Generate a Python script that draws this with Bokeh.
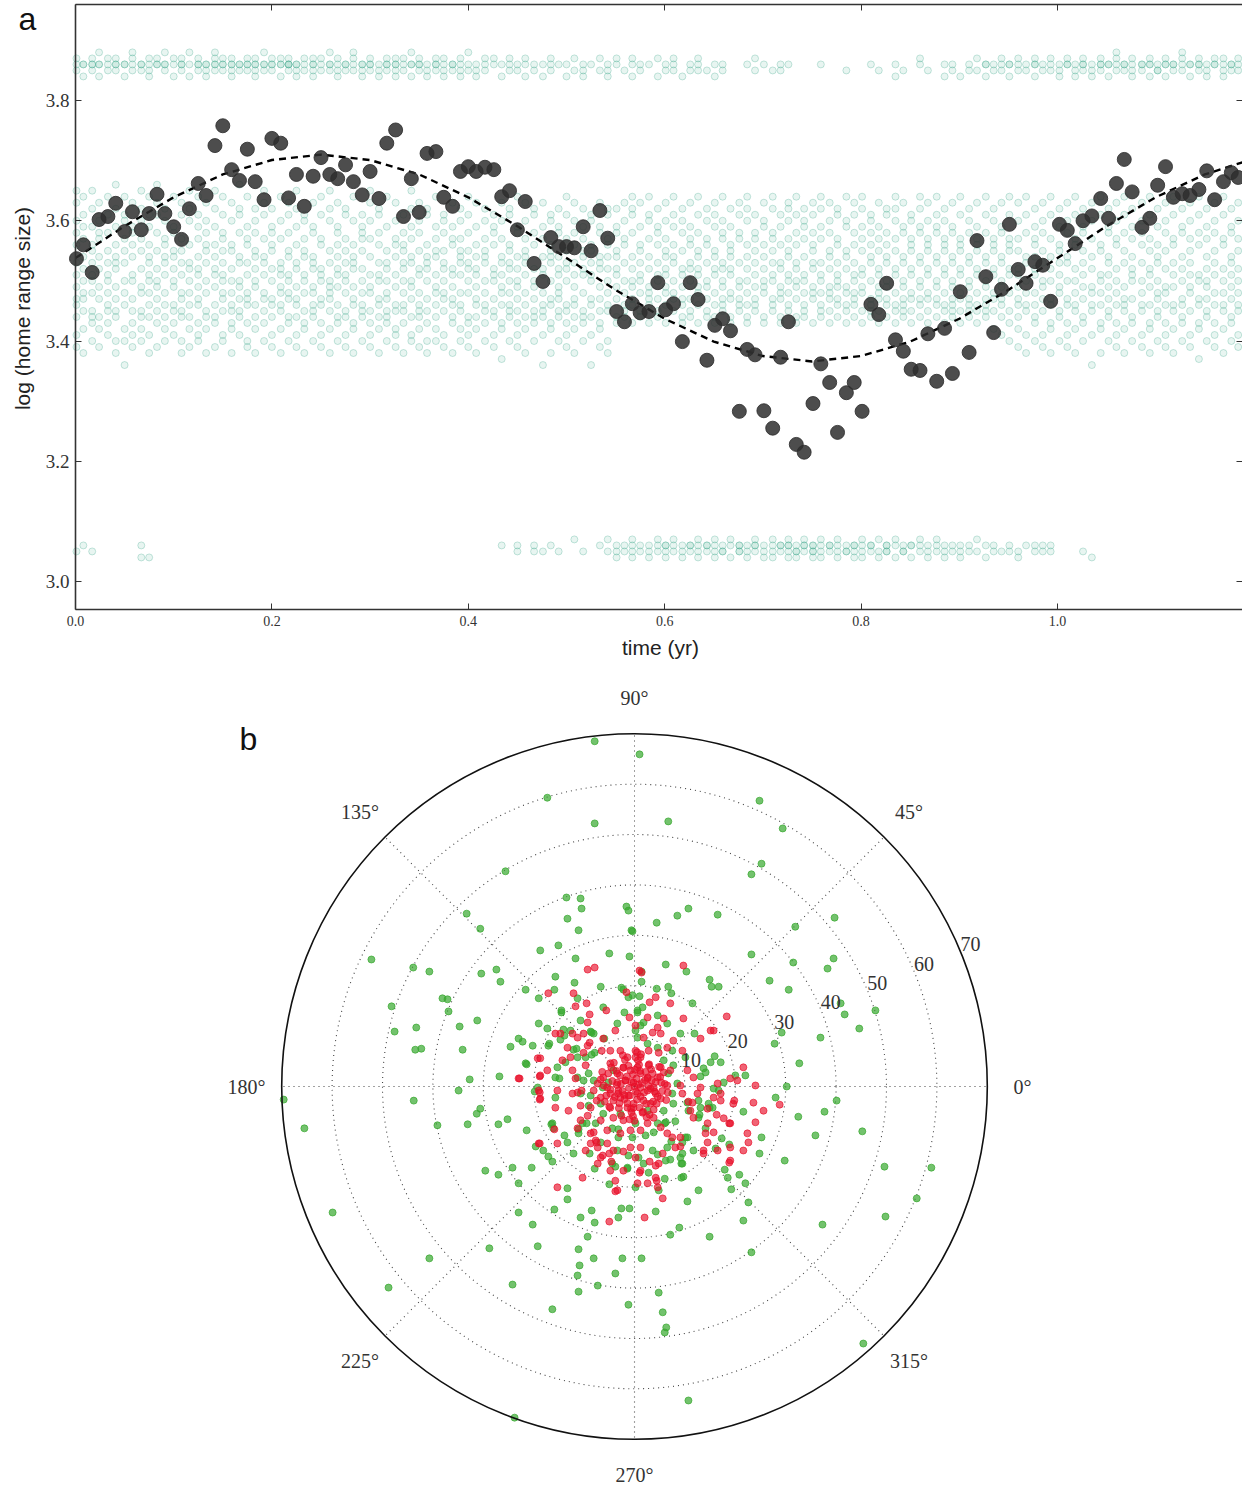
import math
from bokeh.plotting import figure
from bokeh.models import (FixedTicker, PrintfTickFormatter, LinearAxis, Range1d, Label)
from bokeh.layouts import column
from bokeh.embed import file_html
from bokeh.resources import INLINE

# ---------------- panel a data ----------------
mean_t = [0.001,0.008,0.017,0.024,0.033,0.041,0.050,0.058,0.067,0.075,0.083,0.091,0.100,0.108,0.116,0.125,0.133,0.142,0.150,0.159,
          0.167,0.175,0.183,0.192,0.200,0.209,0.217,0.225,0.233,0.242,0.250,0.259,0.267,0.275,0.283,0.292,0.300,0.309,0.317,0.326,
          0.334,0.342,0.350,0.358,0.367,0.375,0.384,0.392,0.400,0.408,0.417,0.426,0.434,0.442,0.450,0.458,0.467,0.476,0.484,0.492,
          0.500,0.508,0.517,0.525,0.534,0.542,0.551,0.559,0.567,0.575,0.584,0.593,0.601,0.609,0.618,0.626,0.634,0.643,0.651,0.659,
          0.667,0.676,0.684,0.692,0.701,0.710,0.718,0.726,0.734,0.742,0.751,0.759,0.768,0.776,0.785,0.793,0.801,0.810,0.818,0.826,
          0.835,0.843,0.851,0.860,0.868,0.877,0.885,0.893,0.901,0.910,0.918,0.927,0.935,0.943,0.951,0.960,0.968,0.977,0.985,0.993,
          1.002,1.010,1.018,1.026,1.035,1.044,1.052,1.060,1.068,1.076,1.086,1.094,1.102,1.110,1.118,1.127,1.135,1.144,1.152,1.160,
          1.169,1.177,1.184]
mean_y = [3.537,3.560,3.514,3.602,3.607,3.629,3.582,3.615,3.585,3.612,3.644,3.612,3.590,3.569,3.620,3.662,3.642,3.725,3.758,3.685,
          3.667,3.719,3.665,3.635,3.737,3.729,3.638,3.677,3.624,3.674,3.705,3.677,3.670,3.693,3.665,3.643,3.682,3.637,3.729,3.751,
          3.607,3.670,3.614,3.712,3.715,3.639,3.624,3.682,3.690,3.682,3.689,3.685,3.640,3.650,3.585,3.632,3.529,3.499,3.572,3.557,
          3.557,3.555,3.590,3.550,3.617,3.571,3.449,3.432,3.462,3.447,3.449,3.497,3.452,3.462,3.399,3.497,3.469,3.368,3.426,3.437,
          3.417,3.283,3.386,3.377,3.284,3.255,3.373,3.432,3.228,3.215,3.296,3.362,3.331,3.248,3.314,3.331,3.283,3.461,3.444,3.496,
          3.402,3.383,3.353,3.351,3.412,3.333,3.421,3.346,3.482,3.381,3.567,3.507,3.414,3.486,3.594,3.519,3.496,3.532,3.526,3.466,
          3.594,3.584,3.562,3.600,3.608,3.637,3.604,3.662,3.702,3.648,3.589,3.604,3.659,3.690,3.639,3.645,3.642,3.652,3.683,3.635,
          3.665,3.680,3.672]

fit_t = [0.00,0.05,0.10,0.15,0.20,0.25,0.30,0.35,0.40,0.45,0.50,0.55,0.60,0.65,0.70,0.75,0.80,0.85,0.90,0.95,1.00,1.05,1.10,1.15,1.19]
fit_y = [3.538,3.591,3.639,3.677,3.701,3.710,3.701,3.677,3.639,3.591,3.538,3.485,3.437,3.399,3.375,3.366,3.375,3.399,3.437,3.485,
         3.538,3.591,3.639,3.677,3.698]

# individual log home-range values per sampling date, in hundredths above 3.00
teal_mid = [
"39 41 44 46 49 51 53 56 58 60 63 65 47","38 42 45 47 48 52 54 57 59 61 64 50","40 43 45 48 50 53 55 56 59 62 65 44 51",
"39 42 44 47 49 52 54 57 60 63 58","41 43 46 48 51 53 55 58 61 64 45 50","38 40 44 45 49 52 54 56 59 62 66 47 53",
"36 40 42 46 48 50 53 57 60 61 64 55","39 41 43 47 50 51 54 58 59 63 45 56","40 42 45 48 49 52 55 57 60 62 65 44",
"38 41 44 46 50 53 54 56 59 61 64 48 51","39 43 45 47 49 52 55 58 61 63 66 50","40 42 44 48 51 53 56 57 60 62 46 54",
"41 43 46 49 50 52 54 58 59 64 45 55","38 40 45 47 48 51 55 57 61 63 44 53","39 42 44 46 50 52 53 56 60 62 65 48",
"40 41 43 47 49 51 54 57 59 61 64 46 52","38 42 45 48 50 53 55 58 60 63 44 56","39 43 44 46 49 52 54 56 59 62 65 51",
"40 41 45 47 50 51 53 57 58 61 64 48 55","38 42 43 46 48 52 55 56 60 63 45 50","41 44 45 49 50 53 54 58 61 62 66 47",
"39 40 43 47 48 51 56 57 59 64 46 53","38 42 44 46 49 52 55 58 60 62 50 54","40 43 45 48 51 53 54 57 61 63 65 47",
"39 41 44 47 50 52 56 58 59 62 46 55","38 42 45 46 49 51 53 57 60 64 48 52","40 43 44 48 50 54 55 58 61 63 47 51",
"39 41 46 47 49 52 53 56 59 62 65 44","38 42 43 45 50 51 55 57 60 61 48 54","40 44 46 48 49 53 54 58 59 63 45 52",
"39 41 43 47 51 52 56 57 61 64 46 50","38 42 45 47 48 50 53 55 60 62 65 49","40 43 44 46 49 52 54 58 59 63 51 56",
"39 41 45 48 50 51 55 57 61 62 44 53","38 42 43 47 49 53 54 56 60 64 46 52","40 44 45 46 50 52 55 58 59 61 48 57",
"39 41 43 48 49 51 54 57 60 63 65 45","38 42 46 47 50 53 56 58 61 62 44 51","40 43 44 45 48 52 53 55 59 64 47 50",
"39 41 42 46 49 51 54 57 60 63 45 56","38 43 45 48 50 52 55 56 58 61 46 53","40 41 44 47 49 53 54 57 59 62 65 50",
"39 42 45 46 48 51 55 58 60 63 44 52","38 40 43 47 50 52 53 56 61 62 45 54","40 42 44 46 49 51 54 57 59 64 48 55",
"39 41 45 48 50 53 55 58 60 61 47 52","38 43 44 47 49 52 56 57 59 63 46 51","40 42 45 46 51 53 54 55 60 62 48 57",
"39 41 43 48 50 52 55 58 61 64 44 53","38 42 44 47 49 51 54 56 59 63 46 52","40 43 45 46 48 53 55 57 60 62 50 54",
"39 41 44 47 50 52 56 58 59 61 45 51","37 42 43 48 49 51 54 57 60 63 46 53","40 44 45 46 50 53 55 56 61 62 48 52",
"39 41 43 47 49 52 54 58 59 64 45 50","38 42 44 48 51 53 55 57 60 63 46 54","40 43 45 47 49 50 56 58 61 62 44 52",
"36 41 44 46 48 52 54 57 59 63 45 51","38 42 43 47 50 53 55 56 60 61 46 54","40 44 45 48 49 51 54 58 59 62 47 52",
"39 41 43 46 50 52 55 57 61 64 45 53","38 42 44 47 49 53 56 58 60 63 46 51","40 43 45 48 51 52 54 57 59 62 44 55",
"36 41 44 46 50 51 55 56 60 61 47 53","39 42 43 47 49 53 54 58 59 63 45 52","38 40 45 48 50 52 56 57 61 62 46 54",
"43 44 47 51 52 55 58 59 62 49 54","45 46 48 50 53 56 57 60 63 44","43 47 49 50 52 54 58 61 62 64 46",
"44 45 48 51 53 55 56 59 63 50","43 46 47 49 52 54 57 60 61 64 48","44 45 50 51 53 56 58 59 62 47",
"43 46 48 49 52 55 57 60 63 51 54","45 47 48 50 53 54 56 59 61 64","43 44 46 49 51 52 55 58 62 60 47",
"44 45 47 50 53 56 57 59 63 52","43 46 48 51 52 54 55 58 61 64 49","45 47 49 50 53 56 57 60 62 44",
"43 44 46 48 51 54 55 59 61 63 52","45 47 49 50 52 53 57 58 60 64 46","43 44 48 51 52 55 56 59 62 47 54",
"45 46 47 49 50 53 57 58 61 63","43 44 48 50 52 54 56 60 62 64 46","45 46 47 51 53 55 57 58 61 49",
"43 44 48 49 52 54 56 59 60 63 50","45 46 47 50 51 55 57 58 62 64 53","43 44 48 49 52 53 56 59 61 47",
"45 46 50 51 54 55 57 60 62 63 48","43 44 47 49 52 53 56 58 61 64 50","45 46 48 50 51 54 57 59 60 62 44",
"43 47 48 49 52 55 56 58 61 63 53","44 45 46 50 51 53 57 59 62 64 48","43 45 48 49 52 54 55 58 60 63 47",
"44 46 47 50 51 53 56 57 61 62 49","43 45 48 49 52 54 55 59 60 64 46","44 46 47 50 51 53 56 58 61 63 48",
"43 45 48 49 52 55 57 59 62 64 51","44 46 47 50 53 54 56 58 60 61 45","43 45 48 49 51 52 55 57 59 63 47",
"44 46 47 50 53 54 56 58 61 62 49","43 45 48 51 52 55 57 60 62 64 46","44 46 47 49 50 53 54 58 59 63 45",
"43 45 48 51 52 55 56 57 60 61 47","44 46 47 49 50 53 54 58 59 62 64","43 45 48 51 52 55 56 57 60 63 47",
"44 46 47 49 50 53 54 58 59 61 64","43 45 48 51 52 55 56 57 60 62 46","44 46 47 49 50 53 54 58 59 63 45",
"43 45 48 51 52 55 56 57 61 64 47","44 46 47 49 50 53 54 58 60 62 45","43 45 48 51 52 55 56 57 59 63 46",
"44 46 47 49 50 53 54 58 61 64 45","42 45 48 51 52 55 56 57 60 62 47","41 46 47 49 50 53 54 58 59 63 44",
"40 45 48 51 52 55 56 57 61 64 43","39 42 44 47 49 52 55 57 60 63 46 51","38 41 45 46 50 53 54 58 61 64 48",
"40 43 44 48 51 52 56 57 59 62 46 54","39 41 45 47 49 53 55 58 60 63 50","38 42 43 46 50 52 54 57 61 64 47",
"40 44 45 48 49 51 55 56 59 62 53","39 41 43 47 50 53 54 58 60 63 46","38 42 45 46 48 52 56 57 61 64 50",
"40 43 44 47 51 53 55 58 59 62 49","36 41 45 48 49 52 54 57 60 63 46","38 42 43 46 50 51 55 56 61 64 48",
"40 44 45 47 49 53 54 58 59 62 51","39 41 43 48 50 52 56 57 60 63 46","38 42 45 46 49 53 55 58 61 64 47",
"40 43 44 47 51 52 54 57 59 62 50","39 41 45 48 50 53 56 58 60 63 46","38 42 43 46 49 51 55 57 61 64 52",
"40 44 45 47 50 53 54 56 59 62 48","39 41 43 48 49 52 55 58 60 63 46","38 42 45 46 51 53 56 57 61 64 49",
"40 43 44 47 50 52 54 58 59 62 46","39 41 45 48 49 53 55 57 60 63 51","37 42 43 46 50 51 56 58 61 64 47",
"40 44 45 47 49 52 54 57 59 62 50","39 41 43 48 51 53 55 58 60 63 46","38 42 45 46 50 52 56 57 61 64 48",
"40 43 44 47 49 53 54 58 59 62 51","39 41 45 48 50 52 55 57 60 63 46"]

teal_top = [
"85 86 87","86 84 86","85 86 87 86","84 86 86 88","85 86 87","86 85 86 87","84 86 86","85 86 87 88","86 86 85","84 85 86 87",
"86 87 86","85 86 88 86","84 86 87","85 86 86 87","86 84 88","85 86 87 86","84 85 86 86","86 87 86 85 88","85 86 86 87","84 86 87 86 85",
"85 86 86","86 87 85 86","84 85 86 87 86","85 86 86 88","86 85 87 86","84 86 86 87","85 86 87 86 86","86 85 86 84","85 86 87","84 86 86 85 87",
"86 85 87","85 86 86 88","84 85 86 87","86 86 85","85 86 87 88","84 86 86 85","86 85 87 86","85 86 84","86 87 86 85","84 85 86 86 87",
"85 86 87","86 84 86 88","85 86 86 87","84 86 85","86 85 87 86","85 86 84 87","86 86 85","84 85 86 87","85 86 88","86 85 84",
"85 86 87","86 87","84 86","85 86 87","86 85","84 86 87","85 86","86 84","85 87 86","86",
"84 86","85 87","86 85 84","86","85 87","84 86 85","86 87","85","86 84 87","85 86",
"86","84 87","86 85","85 86 87","84","86 85","87 85 86","85","86 84","85 86",
"","","86","85 87","86","85","86 85","86","","",
"","86","","","85","","","86","85","",
"86 84","85","","86 87","85","","86 84","85 86","84","86 85",
"85 87","86 84 86","85 86","86 87 85","84 86 86","85 86 87","86 85","84 86 86 87","85 86","86 87 85",
"85 86 84","86 86 87","84 85 86","86 87 85 86","85 86 84","86 85 87 86","84 86 86","85 86 87 88","86 85 86","84 86 87 85",
"85 86 86","86 87 84 86","85 86 85","84 86 87 86","86 85 86","85 86 87 88","86 84 86","85 86 87 86","84 86 85","86 87 86",
"85 86 84 87","86 86 85","85 86 87"]

teal_bot = [
"05","06","05","","","","","","06 04","04",
"","","","","","","","","","",
"","","","","","","","","","",
"","","","","","","","","","",
"","","","","","","","","","",
"","","06","","05 06","","06 05","05","06","05",
"","07","05","","06","05 07","05 06 04","06 05","04 06 07 05","05 06",
"06 04 05","05 07 06","04 05 06 06","06 05 07","05 04 06","06 06 05","04 05 07 06","05 06 06","06 04 05 07","05 06 05",
"04 06 07","05 06 05 06","06 04 05","05 06 07 06","04 05 06","06 05 04 07","05 06 06","04 05 06 07 06","06 05 05 04","05 06 07 06",
"04 05 06 06 05","06 05 07 04","05 06 06","04 05 06 07","06 05 05","05 06 04 06","04 06 05 07","06 05 06","05 04 07","06 05 06 05",
"04 06 07","05 06 05","06 04 06","05 06 07","04 05 06","06 05 07","05 04 06","06 05","05 06 04","06 05",
"05 07","04 06","06 05","05","06 05","05 04","06","05 06","06 05","05 06",
"","","","05","04","","","","","",
"","","","","","","","","","",
"","","","","","","","","","",
"","",""]

# ---------------- panel b data (east / north displacement) ----------------
green_pts = [
(-7.9,68.5),(1.0,65.9),(-17.3,57.3),(-7.9,52.2),(-25.6,42.7),(-13.5,37.5),(-10.7,37.3),(-10.5,35.3),(-1.6,35.7),(-1.2,34.9),
(-33.3,34.3),(-13.3,33.3),(-30.6,31.3),(-11.1,31.0),(-0.6,31.0),(-18.7,27.0),(-15.1,28.0),(-5.0,26.4),(-1.0,25.8),(-11.7,25.4),
(-52.2,25.2),(-43.9,23.6),(-40.7,22.8),(-30.4,22.4),(-27.4,23.2),(-26.6,20.8),(-15.7,21.8),(-11.9,20.6),(-21.6,19.2),(-15.9,19.2),
(-6.7,19.8),(-2.2,19.2),(1.4,20.8),(-19.0,17.5),(-11.3,17.5),(1.0,17.9),(-48.2,15.9),(-38.1,17.5),(-37.1,17.3),(-36.9,14.9),
(-14.5,15.1),(-6.2,15.7),(-2.0,14.7),(0.6,15.1),(-19.0,12.5),(-31.2,13.1),(-34.7,11.9),(-17.3,11.5),(-47.6,10.9),(-43.3,11.7),
(-14.1,11.3),(-8.7,10.9),(1.8,12.7),(-43.5,7.3),(-42.3,7.5),(-34.1,7.3),(-24.6,7.9),(-23.0,9.5),(-22.2,8.9),(-20.2,8.1),
(-16.9,8.5),(-14.7,9.3),(-13.9,10.1),(-32.7,1.4),(-26.8,2.0),(-21.4,4.4),(-15.7,1.8),(-15.3,3.8),(-12.1,7.3),(-11.3,5.8),
(-8.1,10.5),(-8.5,6.3),
(6.7,52.6),(24.8,56.7),(29.4,51.2),(25.2,44.2),(23.2,42.1),(10.7,35.3),(8.5,33.9),(4.4,32.5),(16.5,34.1),(39.7,33.5),
(31.9,31.7),(23.2,26.2),(31.5,24.6),(39.5,25.4),(38.3,23.4),(26.8,21.0),(30.6,19.2),(14.9,21.2),(15.3,19.8),(16.7,19.8),
(6.2,24.2),(10.3,22.8),(40.9,16.5),(41.7,14.3),(47.8,15.1),(44.6,11.5),(36.9,9.7),(29.2,10.7),(27.8,8.5),(32.7,4.6),
(-0.4,30.8),(1.4,22.8),(4.4,19.4),(6.7,19.8),(7.3,18.5),(11.5,16.5),(11.9,10.5),(15.9,6.0),(20.0,2.2),(22.0,2.2),
(13.7,3.6),(13.1,2.0),(30.2,0.0),
(-69.6,-2.6),(-65.5,-8.3),(-59.9,-25.0),(-48.8,-39.9),(-40.7,-34.1),(-28.8,-32.1),(-24.2,-39.3),(-16.3,-44.2),(-11.1,-40.7),(-7.3,-39.5),
(-11.3,-37.5),(-10.9,-35.5),(-11.1,-32.3),(-8.1,-34.1),(-3.8,-37.1),(-2.4,-34.1),(-1.2,-43.3),(-19.2,-31.7),(-20.2,-27.4),(-23.0,-25.0),
(-15.9,-24.4),(-10.7,-26.0),(-9.3,-29.8),(-7.9,-27.0),(-8.5,-24.6),(-3.2,-26.0),(-2.6,-24.2),(-1.0,-24.2),(-13.3,-20.2),(-13.3,-22.4),
(-23.0,-19.2),(-29.6,-16.7),(-27.0,-17.5),(-24.2,-16.1),(-20.4,-16.1),(-17.1,-13.9),(-16.3,-14.9),(-8.9,-13.3),(-7.9,-16.3),(-3.8,-15.9),
(-1.4,-16.1),(-5.0,-19.4),(-19.6,-11.9),(-16.5,-7.5),(-13.9,-9.7),(-11.1,-8.5),(-9.5,-7.3),(-21.4,-8.7),(-25.2,-6.5),(-27.0,-7.5),
(-33.1,-7.5),(-39.1,-7.7),(-43.8,-2.8),(-34.9,-0.8),(-31.3,-5.4),(-30.6,-4.4),(-19.8,-1.0),(-3.2,-8.5),(-23.8,-65.7),
(28.0,-2.2),(40.1,-2.8),(32.5,-6.0),(37.7,-5.0),(45.2,-8.9),(35.9,-9.7),(29.8,-14.7),(49.6,-15.9),(58.9,-16.1),(56.0,-22.2),
(49.8,-25.8),(37.3,-27.4),(21.6,-26.6),(23.2,-32.9),(14.9,-29.8),(8.9,-28.0),(7.1,-29.4),(1.4,-34.1),(4.8,-40.9),(5.6,-44.8),
(6.3,-47.8),(6.0,-48.8),(10.7,-62.3),(45.4,-51.0),(10.5,-22.8),(12.7,-20.6),(4.2,-24.8),(4.8,-20.6),(6.0,-18.3),(9.3,-18.1),
(9.7,-17.9),(19.2,-20.4),(22.0,-19.2),(22.6,-23.0),(20.8,-17.5),(17.9,-16.5),(18.5,-18.1),(24.8,-13.3),(25.2,-10.1),(18.8,-11.5),
(11.7,-12.7),(16.1,-12.3),(17.3,-10.3),(21.6,-5.0),(14.9,-4.2),(15.5,-4.2),(12.7,-2.8),(14.1,-8.3),(12.9,-5.6),(9.5,-13.3),
(9.3,-15.3),(6.2,-14.7),(7.1,-14.5),(2.8,-17.1),(4.6,-13.5),(0.2,-20.0),(7.3,-10.9),(10.1,-10.1),(8.1,-6.9),(6.0,-7.3),
(-0.4,18.1),(-2.6,19.6),(-21.6,4.6),(-17.1,8.1),(-19.2,-0.2),(-14.5,14.7),(-12.7,11.1),(-10.7,13.1),(-11.5,7.5),(-8.5,10.7),
(-9.7,5.8),(-9.1,2.6),(-7.9,6.7),(-6.0,9.5),(-3.4,12.5),(0.6,14.7),(1.6,15.7),(-1.2,17.7),(4.6,14.1),(6.5,12.5),
(9.1,10.5),(7.5,7.1),(10.1,5.8),(8.5,0.6),(7.5,-1.4),(10.5,-3.2),(7.7,-3.4),(5.8,-4.8),(4.6,-7.3),(6.2,-7.1),
(10.7,-4.8),(13.1,-4.2),(12.7,-6.2),(14.7,-3.4),(15.7,-0.4),(16.7,-0.8),(17.7,0.8),(14.1,2.8),(17.1,4.8),(15.1,4.8),
(-8.7,-1.8),(-6.7,-3.4),(-9.1,-3.8),(-6.2,-5.4),(-10.3,-7.3),(-7.7,-7.3),(-11.1,-9.3),(-13.3,-11.1),(-12.1,-13.3),(-6.7,-11.1),
(-4.4,-8.3),(-3.2,-10.1),(-0.4,-10.1),(2.2,-9.7),(3.8,-9.1),(3.6,-12.7),(0.8,-14.1),(-1.2,-13.7),(-3.4,-12.7),(-4.4,-15.3),
(-1.4,-16.3),(1.8,-15.3),(6.5,-12.1),(9.5,-11.1),(10.5,-10.1),(9.1,-14.1),(9.5,-15.3),(-5.2,0.8),(-4.2,3.2),(-10.7,-1.4),
(-11.3,1.8),(-13.7,4.8),(-14.9,1.6),(-15.7,-2.2),(-16.3,-7.3),(-16.1,-8.3),(-18.1,-12.7),(0.2,11.1),(0.6,9.7),(1.2,12.1),
(2.6,8.5),(4.6,7.7),(5.8,5.2),(7.7,4.2),(6.7,2.6),(2.6,-4.8),(0.2,-7.3),(-2.8,-5.4),(-6.3,-0.2),(-8.1,1.2),(-10.1,1.2)]

red_pts = [
(9.7,24.0),(-9.3,23.2),(-7.9,23.6),(-17.1,18.5),(-12.1,18.5),(-9.5,16.5),(-5.6,15.1),(-1.6,18.7),(1.4,22.6),(3.0,16.7),
(4.2,17.7),(7.1,16.5),(9.7,13.5),(15.1,11.1),(15.7,11.1),(13.1,9.5),(18.3,13.9),(21.6,3.8),(20.4,1.2),(19.0,1.6),
(16.5,0.6),(17.1,-2.8),(15.7,-2.2),(23.6,-3.2),(25.6,-4.8),(24.0,-7.1),(22.4,-9.3),(22.6,-11.1),(14.5,-7.3),(11.7,-6.2),
(14.1,-9.3),(13.7,-12.7),(19.0,-12.1),(19.0,-14.7),(6.5,-9.3),(7.5,-10.1),(9.1,-10.1),(8.1,-12.1),(5.6,-13.3),(4.8,-15.3),
(4.2,-18.1),(5.6,-22.2),(2.6,-19.2),(1.2,-16.7),(-3.4,-20.6),(-3.8,-18.7),(-4.2,-12.7),(-5.4,-11.3),(-7.7,-10.7),(-7.3,-12.1),
(-6.7,-14.1),(-9.7,-12.7),(-11.3,-8.3),(-13.1,-4.8),(-10.7,-3.8),(-12.3,-1.4),(-11.7,1.6),(-12.3,3.2),(-9.7,4.2),(-10.1,6.7),
(-12.7,5.8),(-14.3,5.2),(-18.7,2.2),(-19.0,-0.8),(-18.7,-2.4),(-23.0,1.6),(-9.3,8.1),(-8.9,8.7),(-6.5,7.1),(-6.2,9.5),
(-3.8,11.1),(-4.8,7.1),(-2.8,7.1),(0.2,12.1),(0.2,7.1),(1.8,9.7),(3.6,10.7),(5.2,10.5),(2.8,7.1),(4.8,6.7),
(6.5,7.7),(2.8,4.2),(5.2,3.8),(7.1,3.2),(4.6,1.8),(2.6,1.6),(6.5,0.2),(9.1,0.2),(9.5,-1.4),(12.5,-1.4),
(11.5,-3.2),(5.2,-2.4),(3.2,-3.4),(3.8,-6.2),(1.6,-5.2),(-0.2,-4.2),(-1.4,-4.2),(-2.2,-6.7),(-4.2,-6.2),(-4.8,-4.2),
(-6.7,-2.2),(-4.8,-1.4),(-3.2,-0.8),(-3.4,0.8),(-1.8,1.2),(-0.2,0.8),(1.2,-0.2),(0.6,-1.4),(-1.2,-1.8),(-2.8,-2.2),
(1.8,-2.8),(2.6,-0.8),(3.8,-0.2),(4.2,-1.4),(-0.8,3.2),(0.6,3.8),(1.2,2.6),(-2.2,3.8),(-3.4,2.6),(-4.8,4.6),
(-6.2,1.8),(-7.3,0.6),(-8.1,-0.8),(-8.7,-4.2),(-9.3,-5.8),(-6.7,-6.7),(-5.4,-8.7),(-2.8,-9.3),(-0.8,-8.7),(1.2,-8.7),
(2.6,-7.3),(5.2,-8.1),(-0.8,-12.1),(1.2,-12.1),(-1.4,5.8),(1.2,5.8),(2.6,13.7),(4.6,11.7),(5.8,13.5),(7.7,9.1),
(9.5,7.1),(10.5,3.2),(11.7,1.8),(13.1,-0.2),(-11.3,9.7),(-13.3,7.7),(-15.7,10.5),(-12.3,10.5),(-18.7,5.6),(-17.3,3.2),
(-15.3,-0.8),(-15.7,-4.2),(-10.7,-6.7),(-8.1,-9.1),(-8.7,-11.3),(-15.3,-11.3),(-19.0,-11.3),(-7.3,-15.3),(-4.8,-16.7),(-2.2,-16.7),
(0.6,-19.2),(4.6,-20.0),(0.2,-14.1),(-15.3,-20.0),(-10.3,-18.1),(16.5,-12.7),(19.0,-7.3),(19.6,-3.4),(17.7,-6.3),(15.7,-9.1),
(19.8,-2.8),(28.8,-3.6),(21.6,-12.7),(18.8,-15.1),(18.8,-7.3),(14.5,-11.1),(13.7,-13.3),(11.1,-4.8),(10.7,-3.0),(16.3,-5.6),
(14.5,-4.4),(17.1,-1.4),(9.1,-11.9),(4.2,-15.7),(3.0,-14.9),(2.0,-26.0),(1.0,-17.1),(4.4,-18.7),(24.0,0.2),
(-18.8,-1.2),(-18.8,-2.6),(-11.3,-1.2),(-10.5,-0.8),(-18.8,-11.3),(-15.9,-8.5),(-5.0,-26.8),(-3.8,-20.8),(-8.7,-9.3),(-7.5,-11.1),
(-6.3,-13.7),(-5.0,-13.3),(-2.2,-12.9),(-4.6,-14.9),(-7.5,-2.8),
(-11.7,15.9),(-9.3,12.7),(-8.9,14.3),(1.0,23.0),(-19.2,5.6),(-14.7,10.5),(-10.1,10.5),(-22.8,1.6),(-18.8,2.0),(-1.0,13.7),
(0.0,0.0),(0.8,0.4),(-0.6,0.9),(-1.1,-0.3),(0.3,-1.0),(1.5,0.7),(-1.8,1.2),(1.9,-1.2),(-2.4,-0.9),(2.6,1.8),
(-0.3,2.4),(0.5,-2.6),(-2.9,2.2),(3.2,-0.4),(-3.5,0.3),(1.1,3.1),(-1.4,-3.3),(3.6,2.6),(-3.9,-2.1),(2.3,-3.4),
(-2.2,3.7),(4.2,0.9),(-4.4,1.1),(0.9,4.3),(-0.7,-4.4),(4.6,-2.0),(-4.8,-0.6),(2.9,4.4),(-3.1,-4.3),(5.1,1.9),
(-5.2,2.6),(1.7,-5.0),(-1.9,5.3),(5.5,-0.9),(-5.6,-1.8),(3.8,-4.6),(-4.1,4.7),(0.2,5.8),(-0.3,-5.9),(6.0,0.5),
(-6.1,0.2),(4.9,3.9),(-5.0,-4.0),(3.0,-5.6),(-2.6,-5.8),(6.3,-2.7),(-6.4,2.9),(1.3,6.4),(-1.0,-6.5),(2.1,1.3),
(-1.5,2.0),(1.2,-2.0),(-2.0,-1.7),(0.4,1.6),(-0.9,-1.8),(2.8,0.1),(-2.7,0.5),(0.1,3.3),(-0.2,-3.4),(3.4,1.2),
(-3.3,-1.4),(4.0,-1.0),(-4.2,-2.8),(2.2,2.9),(-2.0,-2.5),(1.0,-4.2),(-1.2,4.1),(3.3,3.4),(-3.6,3.1),(3.7,-3.0),
(-3.0,-3.3),(5.3,0.8),(-5.4,-0.2),(0.7,5.2),(-0.6,-5.1),(4.4,-3.4),(-4.6,3.8),(5.8,2.8),(-5.9,-3.0),(2.4,-6.1),
(-2.3,6.2),(6.6,-1.2),(-6.7,1.4),(0.5,6.8),(0.0,-6.8)]

ring_radii = [10, 20, 30, 40, 50, 60]
r_max = 70
spoke_deg = [0, 45, 90, 135, 180, 225, 270, 315]
angle_labels = ["0°", "45°", "90°", "135°", "180°", "225°", "270°", "315°"]
ring_labels = ["10", "20", "30", "40", "50", "60", "70"]

SERIF = "Liberation Serif"
SANS = "Liberation Sans"
AX = "#333333"

# ---------------- panel a ----------------
tx, ty = [], []
for t, a, b, c in zip(mean_t, teal_mid, teal_top, teal_bot):
    for code in (a + " " + b + " " + c).split():
        tx.append(t)
        ty.append(3.0 + int(code) / 100.0)

PXU = 982.0                       # pixels per year
PYU = 601.25                      # pixels per log unit
X0 = -75.0 / PXU                  # canvas-wide data window
X1 = 1167.0 / PXU
Y_TOP = 3.0 + 581.0 / PYU
Y_BOT = 3.0 - 84.0 / PYU
YF0 = 3.0 - 28.0 / PYU            # axes box
YF1 = 3.0 + 577.0 / PYU

p = figure(width=1242, height=665, output_backend="svg", toolbar_location=None,
           x_range=Range1d(X0, X1), y_range=Range1d(Y_BOT, Y_TOP),
           min_border=0, x_axis_location=None, y_axis_location=None)
p.xgrid.visible = False
p.ygrid.visible = False
p.outline_line_color = None

xt = FixedTicker(ticks=[0.0, 0.2, 0.4, 0.6, 0.8, 1.0])
yt = FixedTicker(ticks=[3.0, 3.2, 3.4, 3.6, 3.8])

def make_axis(ticker, labels=True, line=True, **kw):
    ax = LinearAxis(**kw)
    ax.ticker = ticker
    ax.formatter = PrintfTickFormatter(format="%.1f")
    ax.major_tick_in = 6
    ax.major_tick_out = 0
    ax.minor_tick_in = 0
    ax.minor_tick_out = 0
    ax.major_tick_line_color = AX
    ax.major_tick_line_width = 1
    ax.axis_line_color = AX if line else None
    ax.axis_line_width = 1.6
    if not labels:
        ax.major_label_text_font_size = "0px"
        ax.major_label_text_alpha = 0
        ax.major_label_standoff = 0
    return ax

xa = make_axis(xt, fixed_location=YF0, bounds=(0.0, X1))
xa.major_label_text_font = SERIF
xa.major_label_text_font_size = "14px"
xa.major_label_text_color = AX
xa.major_label_standoff = 6
p.add_layout(xa, "below")

ya = make_axis(yt, fixed_location=0.0, bounds=(YF0, YF1))
ya.major_label_text_font = SERIF
ya.major_label_text_font_size = "19px"
ya.major_label_text_color = AX
ya.major_label_standoff = 6
p.add_layout(ya, "left")

top_ax = make_axis(xt, labels=False, fixed_location=YF1, bounds=(0.0, X1))
p.add_layout(top_ax, "above")
right_ax = make_axis(yt, labels=False, line=False, fixed_location=X1 - 0.0005, bounds=(YF0, YF1))
p.add_layout(right_ax, "right")

p.scatter(tx, ty, size=7, marker="circle", fill_color="#43a98f", fill_alpha=0.12,
          line_color="#43a98f", line_alpha=0.30, line_width=1)
p.line(fit_t, fit_y, line_color="black", line_width=2.4, line_dash="7 5")
p.scatter(mean_t, mean_y, size=14, marker="circle", fill_color="#2e2e2e", fill_alpha=0.85,
          line_color="#2e2e2e", line_alpha=0.85)

p.add_layout(Label(x=(660 - 75) / PXU, y=3.0 - 66.0 / PYU, text="time (yr)", text_font=SANS,
                   text_font_size="21px", text_align="center", text_baseline="middle", text_color="#222222"))
p.add_layout(Label(x=(22 - 75) / PXU, y=3.0 + 273.0 / PYU, text="log (home range size)", angle=math.pi / 2,
                   text_font=SANS, text_font_size="21px", text_align="center", text_baseline="middle",
                   text_color="#222222"))
p.add_layout(Label(x=(27 - 75) / PXU, y=3.0 + 563.0 / PYU, text="a", text_font=SANS, text_font_size="32px",
                   text_align="center", text_baseline="middle", text_color="#111111"))

# ---------------- panel b ----------------
scale = 5.04  # px per unit
q = figure(width=1242, height=821, output_backend="svg", toolbar_location=None,
           x_range=Range1d(-634 / scale, 608 / scale), y_range=Range1d(-400 / scale, 421 / scale),
           min_border=0, x_axis_location=None, y_axis_location=None)
q.xgrid.visible = False
q.ygrid.visible = False
q.outline_line_color = None

q.circle(x=[0] * len(ring_radii), y=[0] * len(ring_radii), radius=ring_radii, fill_color=None,
         line_color="#444444", line_width=1.1, line_dash="1 4")
sx0 = [0.0] * len(spoke_deg)
sx1 = [r_max * math.cos(math.radians(d)) for d in spoke_deg]
sy1 = [r_max * math.sin(math.radians(d)) for d in spoke_deg]
q.segment(x0=sx0, y0=sx0, x1=sx1, y1=sy1, line_color="#444444", line_width=1.1, line_dash="1 4")

gx = [pt[0] for pt in green_pts]
gy = [pt[1] for pt in green_pts]
rx = [pt[0] for pt in red_pts]
ry = [pt[1] for pt in red_pts]
q.scatter(gx, gy, size=7, marker="circle", fill_color="#37a82f", fill_alpha=0.7,
          line_color="#37a82f", line_alpha=0.7)
q.scatter(rx, ry, size=7, marker="circle", fill_color="#e8102a", fill_alpha=0.65,
          line_color="#e8102a", line_alpha=0.65)

q.circle(x=[0], y=[0], radius=[r_max], fill_color=None, line_color="#111111", line_width=1.6)

lab_r = 77.0
for d, txt in zip(spoke_deg, angle_labels):
    q.add_layout(Label(x=lab_r * math.cos(math.radians(d)), y=lab_r * math.sin(math.radians(d)),
                       text=txt, text_font=SERIF, text_font_size="20px", text_color=AX,
                       text_align="center", text_baseline="middle"))
for rr, txt in zip(ring_radii + [r_max], ring_labels):
    q.add_layout(Label(x=rr * math.cos(math.radians(22.5)), y=rr * math.sin(math.radians(22.5)),
                       text=txt, text_font=SERIF, text_font_size="20px", text_color=AX,
                       text_align="left", text_baseline="bottom"))

q.add_layout(Label(x=(248 - 634) / scale, y=(1086 - 738) / scale, text="b", text_font=SANS,
                   text_font_size="32px", text_align="center", text_baseline="middle", text_color="#111111"))

layout = column(p, q, spacing=0)
open("out.html", "w").write(file_html(layout, INLINE))
